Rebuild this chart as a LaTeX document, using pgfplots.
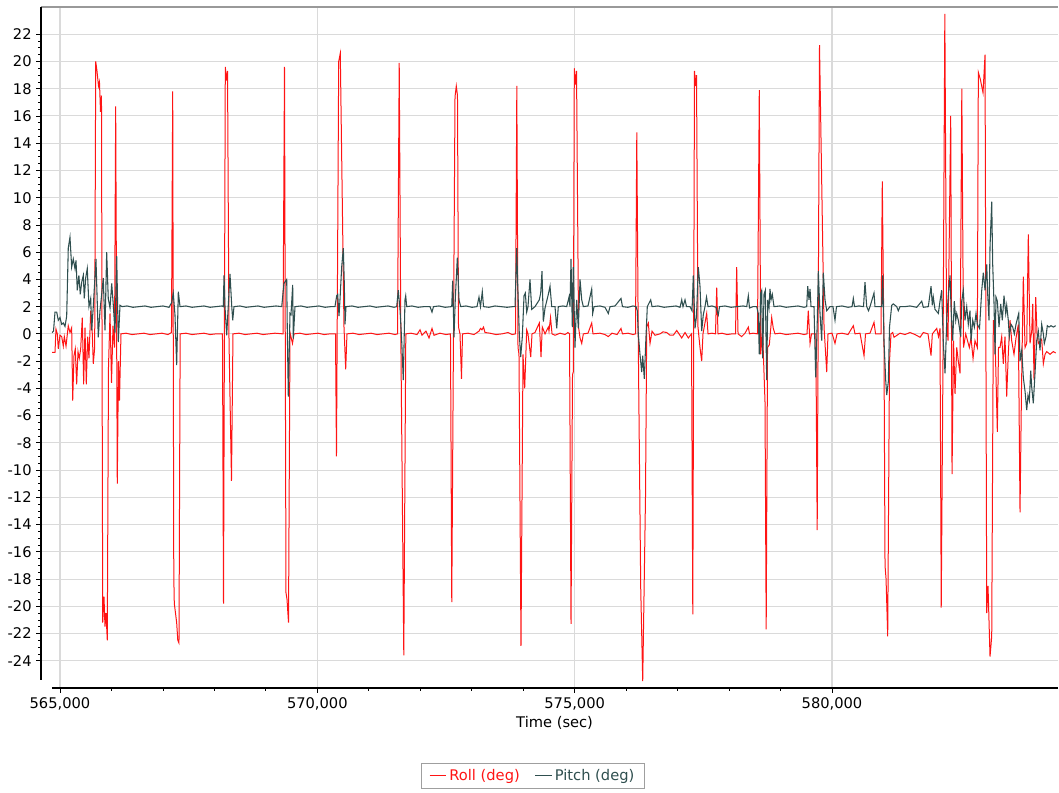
\documentclass[border=0pt]{standalone}
\usepackage{fontspec}
\setmainfont{DejaVu Sans}
\usepackage{pgfplots}
\pgfplotsset{compat=1.18}
\definecolor{rollc}{RGB}{255,20,20}
\definecolor{pitchc}{RGB}{47,79,79}
\definecolor{gridc}{RGB}{218,218,218}
\begin{document}
\begin{tikzpicture}
\useasboundingbox (0,0) rectangle (794.25pt,594pt);
\begin{axis}[
  at={(30.75pt,78pt)}, anchor=south west,
  scale only axis, width=762.75pt, height=510.75pt,
  xmin=564631, xmax=584391, ymin=-26, ymax=24,
  axis x line*=bottom, axis y line*=left,
  axis line style={draw=none},
  clip mode=individual,
  scaled x ticks=false,
  xtick={565000,570000,575000,580000},
  xticklabels={{565,000},{570,000},{575,000},{580,000}},
  minor x tick num=4,
  ytick={-24,-22,-20,-18,-16,-14,-12,-10,-8,-6,-4,-2,0,2,4,6,8,10,12,14,16,18,20,22},
  yticklabels={-24,-22,-20,-18,-16,-14,-12,-10,-8,-6,-4,-2,0,2,4,6,8,10,12,14,16,18,20,22},
  minor y tick num=3,
  tick align=outside,
  major tick length=3.5pt, minor tick length=2pt,
  tick style={black, line width=0.6pt},
  grid=major, major grid style={gridc, line width=0.8pt},
  ticklabel style={font=\fontsize{11}{13}\selectfont, text=black},
  xlabel={Time (sec)},
  xlabel style={at={(axis description cs:0.505,0)}, anchor=center, yshift=-26.5pt, font=\fontsize{11}{13}\selectfont},
  legend columns=2,
  legend style={at={(0.4838,-0.129)}, anchor=center, draw=gray!75, line width=0.9pt,
    font=\fontsize{11}{13}\selectfont, inner xsep=5.5pt, inner ysep=2.5pt,
    /tikz/every even column/.append style={column sep=9pt}},
  legend image code/.code={\draw[#1] (0pt,0pt) -- (12.5pt,0pt);},
]
\addplot[rollc, line width=0.75pt] table[row sep=\\] {
x y\\
564845 -1.35\\ 564903 -1.35\\ 564922 0.35\\ 564948 0\\ 564967 -1.1\\ 565000 -0.1\\ 565033 -0.2\\ 565064 -0.9\\ 565084 -0.2\\ 565117 -0.9\\
565161 0.6\\ 565194 0.1\\ 565227 0.45\\ 565247 -4.9\\ 565272 -1.6\\ 565297 -1.1\\ 565324 -3.7\\ 565350 -1.3\\ 565375 -1.8\\ 565402 -1.1\\
565433 1.2\\ 565460 -3.7\\ 565486 0.45\\ 565511 -3.7\\ 565538 -0.2\\ 565563 -1.8\\ 565597 1.7\\ 565628 0\\ 565647 -2.2\\ 565674 -1.0\\
565694 20.0\\ 565719 19.3\\ 565748 18.2\\ 565767 18.5\\ 565787 16.3\\ 565806 17.5\\ 565830 -21.2\\ 565855 -19.3\\ 565874 -21.5\\ 565894 -20.5\\
565919 -22.5\\ 565942 -2.5\\ 565972 1.5\\ 566001 -3.6\\ 566030 0.6\\ 566059 -1.0\\ 566082 16.7\\ 566113 -11.0\\ 566137 -2.0\\ 566156 -4.9\\
566185 0\\ 566282 0.05\\ 566399 -0.05\\ 566516 0\\ 566632 0.05\\ 566749 -0.05\\ 566865 0\\ 566982 0.05\\ 567098 -0.05\\ 567166 0.1\\
567190 17.8\\ 567211 -17.8\\ 567221 -19.8\\ 567267 -21.2\\ 567289 -22.5\\ 567312 -22.7\\ 567335 0\\ 567448 0.05\\ 567565 -0.05\\ 567681 0\\
567798 0.05\\ 567915 -0.05\\ 568031 0\\ 568157 0\\ 568177 -19.8\\ 568212 19.6\\ 568235 18.6\\ 568255 19.3\\ 568284 -0.5\\ 568332 -10.8\\
568361 0\\ 568478 0.05\\ 568595 -0.05\\ 568711 0\\ 568828 0.05\\ 568944 -0.05\\ 569061 0\\ 569177 0.05\\ 569333 0\\ 569362 19.6\\
569391 -19.0\\ 569411 -19.5\\ 569440 -21.2\\ 569469 0.1\\ 569517 -0.7\\ 569547 0\\ 569663 0.05\\ 569780 -0.05\\ 569896 0\\ 570013 0.05\\
570130 -0.05\\ 570246 0\\ 570353 0\\ 570372 -9.0\\ 570415 20.0\\ 570446 20.6\\ 570518 0.5\\ 570551 -2.6\\ 570576 0\\ 570693 0.05\\
570810 -0.05\\ 570926 0\\ 571043 0.05\\ 571159 -0.05\\ 571276 0\\ 571392 0.05\\ 571509 -0.05\\ 571558 0\\ 571591 19.9\\ 571622 0\\
571680 -23.6\\ 571719 0\\ 571820 0.05\\ 571937 -0.05\\ 571995 0.3\\ 572034 -0.1\\ 572111 0.2\\ 572170 -0.3\\ 572228 0.4\\ 572267 -0.1\\
572383 0.05\\ 572500 -0.05\\ 572587 0\\ 572612 -19.7\\ 572675 17.4\\ 572700 18.2\\ 572723 17.5\\ 572743 0.5\\ 572772 0\\ 572801 -3.3\\
572821 0\\ 572927 0.05\\ 573044 -0.05\\ 573141 0.2\\ 573170 0.4\\ 573199 0.3\\ 573229 0.5\\ 573258 0.1\\ 573355 0.05\\ 573471 -0.05\\
573588 0\\ 573705 0.1\\ 573782 -0.05\\ 573850 0\\ 573876 18.2\\ 573899 -1.0\\ 573918 -1.5\\ 573957 -22.9\\ 573996 -1.5\\ 574029 -4.0\\
574068 0.3\\ 574093 0\\ 574146 -1.7\\ 574171 0\\ 574229 0.1\\ 574313 0.8\\ 574346 -1.7\\ 574371 0.5\\ 574424 0\\ 574488 0.5\\
574501 0.2\\ 574531 1.2\\ 574560 0\\ 574618 -0.1\\ 574715 0.05\\ 574812 -0.05\\ 574870 0.1\\ 574900 0\\ 574929 -21.3\\ 574958 -3.0\\
574973 -2.8\\ 574993 19.5\\ 575016 18.3\\ 575036 19.3\\ 575075 0.5\\ 575104 -0.3\\ 575137 -0.7\\ 575168 0\\ 575259 0.05\\ 575331 0.8\\
575356 0\\ 575492 0.05\\ 575589 -0.05\\ 575653 -0.2\\ 575725 0.05\\ 575823 -0.05\\ 575900 0.4\\ 575929 0\\ 576036 0.05\\ 576133 -0.05\\
576182 0\\ 576207 14.8\\ 576236 -0.7\\ 576269 -13.2\\ 576283 -18.6\\ 576322 -25.5\\ 576376 -12.0\\ 576400 0.5\\ 576431 0.8\\ 576464 -0.7\\
576503 0.2\\ 576561 -0.1\\ 576658 0\\ 576716 0.15\\ 576788 0.1\\ 576852 -0.1\\ 576916 -0.1\\ 576983 0.25\\ 577027 0\\ 577080 -0.3\\
577144 0.1\\ 577208 -0.3\\ 577270 0\\ 577295 -20.6\\ 577328 19.3\\ 577348 18.2\\ 577367 19.0\\ 577396 0.5\\ 577435 -1.0\\ 577468 -2.0\\
577493 0\\ 577565 1.5\\ 577591 0\\ 577668 0.05\\ 577736 0\\ 577760 3.4\\ 577785 0\\ 577863 0.05\\ 577960 -0.05\\ 578057 0\\
578125 0\\ 578148 4.9\\ 578174 0\\ 578245 -0.2\\ 578310 0.05\\ 578374 0.5\\ 578397 0\\ 578465 0.05\\ 578552 0\\ 578587 17.9\\
578615 -1.5\\ 578650 0.3\\ 578698 -5.0\\ 578721 -21.7\\ 578747 -1.0\\ 578782 -0.8\\ 578828 1.2\\ 578859 0.4\\ 578892 0\\ 578990 0.05\\
579106 -0.05\\ 579223 0\\ 579339 0.05\\ 579456 -0.05\\ 579514 0\\ 579539 1.7\\ 579573 -0.7\\ 579602 0\\ 579685 0\\ 579712 -14.4\\
579757 21.2\\ 579845 0.5\\ 579897 -2.8\\ 579922 0\\ 580000 0.05\\ 580058 -0.7\\ 580097 0\\ 580194 0.05\\ 580311 -0.05\\ 580414 0.6\\
580447 0\\ 580544 0.05\\ 580622 -1.6\\ 580651 0\\ 580738 0.05\\ 580816 0.85\\ 580846 0\\ 580952 0\\ 580977 11.2\\ 581010 -1.0\\
581030 -17.0\\ 581050 -18.0\\ 581082 -22.2\\ 581117 -2.0\\ 581146 0\\ 581179 0.1\\ 581205 -0.25\\ 581321 0.05\\ 581418 -0.05\\ 581516 0.1\\
581613 -0.05\\ 581710 -0.25\\ 581774 0.1\\ 581865 0\\ 581924 -1.6\\ 581949 0\\ 582035 0.4\\ 582069 -0.2\\ 582098 0.4\\ 582122 -20.1\\
582157 -1.5\\ 582192 23.5\\ 582225 1.0\\ 582254 -0.5\\ 582306 16.0\\ 582332 -10.3\\ 582361 -0.5\\ 582390 -4.4\\ 582423 -1.0\\ 582454 -2.0\\
582487 -2.9\\ 582522 18.0\\ 582555 -1.0\\ 582598 0\\ 582633 -0.5\\ 582668 -1.0\\ 582701 -0.3\\ 582740 -1.8\\ 582778 -0.5\\ 582823 -1.0\\
582843 19.2\\ 582881 18.7\\ 582934 17.7\\ 582973 20.5\\ 583006 -20.5\\ 583031 -18.5\\ 583070 -23.7\\ 583103 -22.2\\ 583134 1.0\\ 583167 -0.2\\
583212 -7.2\\ 583235 -1.0\\ 583264 -1.0\\ 583297 -0.2\\ 583328 -2.2\\ 583361 -0.2\\ 583394 -4.6\\ 583425 -1.5\\ 583459 1.0\\ 583491 -0.5\\
583536 -1.5\\ 583575 -0.3\\ 583620 0.7\\ 583653 -13.1\\ 583682 -3.9\\ 583717 4.2\\ 583750 -1.0\\ 583783 -0.7\\ 583814 7.3\\ 583847 -0.7\\
583880 0.2\\ 583900 2.2\\ 583925 -3.4\\ 583958 2.7\\ 583983 0\\ 584008 -0.7\\ 584074 -0.4\\ 584106 -2.2\\ 584139 -1.5\\ 584172 -1.3\\
584236 -1.5\\ 584300 -1.3\\ 584346 -1.4\\
};
\addlegendentry{\textcolor{rollc}{Roll (deg)}}
\addplot[pitchc, line width=0.8pt] table[row sep=\\] {
x y\\
564845 0.1\\ 564874 0.2\\ 564903 1.6\\ 564936 1.6\\ 564967 1.0\\ 565000 1.2\\ 565033 0.7\\ 565064 0.8\\ 565097 0.55\\ 565130 1.3\\
565161 6.3\\ 565194 7.1\\ 565227 4.9\\ 565258 5.5\\ 565291 4.8\\ 565311 5.4\\ 565336 3.2\\ 565367 4.3\\ 565394 2.9\\ 565422 3.8\\
565453 4.3\\ 565472 2.6\\ 565499 4.1\\ 565530 4.8\\ 565563 2.0\\ 565597 2.6\\ 565616 0.25\\ 565647 2.0\\ 565699 5.5\\ 565744 -0.25\\
565777 1.7\\ 565810 2.9\\ 565841 4.1\\ 565874 0.25\\ 565907 6.0\\ 565938 2.6\\ 565972 1.9\\ 566005 3.7\\ 566036 2.1\\ 566069 0.1\\
566102 5.7\\ 566133 -0.6\\ 566166 2.1\\ 566205 2.0\\ 566302 2.05\\ 566418 1.95\\ 566535 2.0\\ 566652 2.05\\ 566768 1.95\\ 566885 2.0\\
567001 2.05\\ 567118 1.95\\ 567170 2.3\\ 567201 3.0\\ 567234 1.4\\ 567267 -2.3\\ 567299 3.1\\ 567332 2.0\\ 567448 2.05\\ 567565 1.95\\
567681 2.0\\ 567798 2.05\\ 567915 1.95\\ 568031 2.0\\ 568148 2.05\\ 568173 2.0\\ 568187 4.3\\ 568206 2.0\\ 568239 -0.1\\ 568270 2.1\\
568303 4.4\\ 568336 2.1\\ 568356 1.0\\ 568381 2.0\\ 568497 2.05\\ 568614 1.95\\ 568731 2.0\\ 568847 2.05\\ 568964 1.95\\ 569080 2.0\\
569197 2.05\\ 569308 2.0\\ 569352 3.7\\ 569405 4.0\\ 569416 0.4\\ 569436 -4.6\\ 569469 1.5\\ 569488 1.4\\ 569521 3.6\\ 569533 -0.35\\
569566 2.0\\ 569683 2.05\\ 569799 1.95\\ 569916 2.0\\ 570032 2.05\\ 570149 1.95\\ 570266 2.0\\ 570343 2.0\\ 570376 2.8\\ 570396 2.9\\
570421 1.3\\ 570440 2.5\\ 570473 4.9\\ 570505 6.3\\ 570524 3.7\\ 570538 0.7\\ 570557 2.0\\ 570674 2.05\\ 570790 1.95\\ 570907 2.0\\
571023 2.05\\ 571140 1.95\\ 571256 2.0\\ 571373 2.05\\ 571490 1.95\\ 571542 2.0\\ 571573 3.2\\ 571606 1.8\\ 571639 -0.5\\ 571670 -3.4\\
571703 2.5\\ 571717 2.8\\ 571736 2.0\\ 571839 2.05\\ 571956 1.95\\ 572073 2.0\\ 572189 2.0\\ 572228 1.6\\ 572257 2.0\\ 572364 2.05\\
572481 1.95\\ 572611 2.0\\ 572630 3.9\\ 572655 -0.25\\ 572681 2.6\\ 572720 5.6\\ 572753 2.5\\ 572786 2.0\\ 572889 2.05\\ 573005 1.95\\
573102 2.0\\ 573141 2.7\\ 573170 2.0\\ 573205 3.1\\ 573229 2.0\\ 573335 1.95\\ 573452 2.05\\ 573569 2.0\\ 573685 1.95\\ 573802 2.0\\
573841 2.0\\ 573874 6.3\\ 573893 3.7\\ 573924 0\\ 573951 -1.7\\ 573982 -0.25\\ 574016 2.8\\ 574041 3.0\\ 574068 1.6\\ 574093 2.0\\
574132 4.0\\ 574165 1.8\\ 574229 2.0\\ 574313 2.5\\ 574340 3.0\\ 574365 4.6\\ 574391 0.9\\ 574424 1.9\\ 574488 2.9\\ 574521 3.5\\
574554 2.0\\ 574618 2.0\\ 574651 0.4\\ 574682 2.0\\ 574773 2.05\\ 574845 2.0\\ 574890 2.7\\ 574909 2.0\\ 574929 5.5\\ 574954 0.5\\
574973 4.9\\ 575006 -1.0\\ 575039 2.5\\ 575071 0.4\\ 575104 4.0\\ 575137 2.5\\ 575168 2.0\\ 575259 2.05\\ 575331 3.3\\ 575350 1.5\\
575376 2.0\\ 575492 2.05\\ 575589 1.95\\ 575653 1.5\\ 575687 2.0\\ 575784 2.05\\ 575900 2.6\\ 575929 2.0\\ 576036 1.95\\ 576133 2.05\\
576192 2.0\\ 576217 1.7\\ 576236 0\\ 576269 -1.5\\ 576302 -2.8\\ 576322 -1.6\\ 576353 -3.3\\ 576380 -0.7\\ 576411 2.0\\ 576477 2.5\\
576503 2.0\\ 576619 2.05\\ 576736 1.95\\ 576852 2.0\\ 576969 2.05\\ 577047 1.95\\ 577080 2.5\\ 577105 2.0\\ 577144 2.5\\ 577173 2.0\\
577241 2.0\\ 577280 1.7\\ 577305 4.3\\ 577338 0.4\\ 577367 1.3\\ 577402 4.9\\ 577435 3.5\\ 577468 0.2\\ 577499 1.4\\ 577532 2.0\\
577562 2.7\\ 577591 2.0\\ 577668 2.05\\ 577746 1.95\\ 577791 1.4\\ 577814 2.0\\ 577921 2.05\\ 578038 1.95\\ 578154 2.0\\ 578271 2.05\\
578343 2.0\\ 578374 2.8\\ 578397 1.9\\ 578465 2.0\\ 578537 2.0\\ 578567 1.5\\ 578587 -1.5\\ 578615 3.0\\ 578634 3.2\\ 578653 -1.8\\
578679 2.9\\ 578704 3.2\\ 578731 -3.4\\ 578751 2.5\\ 578776 1.9\\ 578795 3.3\\ 578815 2.5\\ 578840 2.9\\ 578873 2.0\\ 578990 2.05\\
579106 1.95\\ 579223 2.0\\ 579339 2.05\\ 579456 1.95\\ 579508 2.0\\ 579528 3.5\\ 579553 2.5\\ 579573 3.3\\ 579592 2.0\\ 579650 2.0\\
579683 -3.2\\ 579714 1.0\\ 579734 4.6\\ 579767 1.5\\ 579800 -0.5\\ 579831 4.5\\ 579864 2.5\\ 579897 1.7\\ 579961 2.0\\ 580019 2.0\\
580058 1.0\\ 580087 2.0\\ 580194 2.05\\ 580311 1.95\\ 580389 2.0\\ 580414 2.6\\ 580437 2.0\\ 580525 2.05\\ 580612 2.0\\ 580641 3.8\\
580674 2.0\\ 580709 1.7\\ 580738 2.0\\ 580816 3.0\\ 580835 2.0\\ 580966 2.0\\ 580985 4.3\\ 581010 -0.5\\ 581043 -3.4\\ 581063 -4.5\\
581094 -3.5\\ 581117 0.5\\ 581160 2.1\\ 581191 2.2\\ 581257 2.0\\ 581288 1.7\\ 581321 2.0\\ 581418 2.0\\ 581516 2.05\\ 581646 1.95\\
581743 2.4\\ 581774 1.95\\ 581871 2.0\\ 581924 3.5\\ 581949 2.1\\ 581968 2.7\\ 582001 1.8\\ 582066 1.5\\ 582098 2.4\\ 582131 3.2\\
582163 -0.7\\ 582196 -2.9\\ 582229 1.0\\ 582260 2.9\\ 582293 4.3\\ 582312 2.0\\ 582345 -0.5\\ 582376 2.4\\ 582404 1.0\\ 582423 1.5\\
582454 1.0\\ 582501 -0.2\\ 582520 2.4\\ 582551 3.2\\ 582584 1.0\\ 582617 2.0\\ 582648 0.7\\ 582681 1.7\\ 582701 -0.5\\ 582734 1.0\\
582765 0.5\\ 582798 1.5\\ 582823 0.7\\ 582866 0.4\\ 582909 3.2\\ 582940 4.5\\ 582973 3.2\\ 583006 5.1\\ 583025 2.9\\ 583050 1.0\\
583070 6.4\\ 583103 9.7\\ 583122 5.1\\ 583148 2.2\\ 583167 -1.5\\ 583186 2.7\\ 583212 2.4\\ 583245 0.5\\ 583278 2.2\\ 583309 1.0\\
583342 2.8\\ 583375 1.5\\ 583394 2.1\\ 583425 1.0\\ 583445 -0.2\\ 583478 0.7\\ 583511 0.5\\ 583542 0\\ 583575 0.7\\ 583608 1.2\\
583628 1.5\\ 583653 -2.0\\ 583686 -1.2\\ 583717 -3.2\\ 583750 -4.2\\ 583783 -5.6\\ 583808 -4.5\\ 583834 -4.9\\ 583861 -2.7\\ 583880 -3.9\\
583911 -5.1\\ 583944 -2.9\\ 583977 -0.5\\ 584008 0.2\\ 584041 -1.2\\ 584074 0.7\\ 584106 0\\ 584125 -0.7\\ 584158 -0.2\\ 584183 0.6\\
584217 0.5\\ 584255 0.6\\ 584300 0.5\\ 584346 0.6\\
};
\addlegendentry{\textcolor{pitchc}{Pitch (deg)}}
\draw[gray!80, line width=1.1pt] (rel axis cs:0,1) -- (rel axis cs:1,1);
\draw[black, line width=1.3pt] (rel axis cs:0,1) -- (rel axis cs:0,0.0117);
\draw[black, line width=1.4pt] (rel axis cs:0.0108,0) -- (rel axis cs:1,0);
\end{axis}
\end{tikzpicture}
\end{document}
